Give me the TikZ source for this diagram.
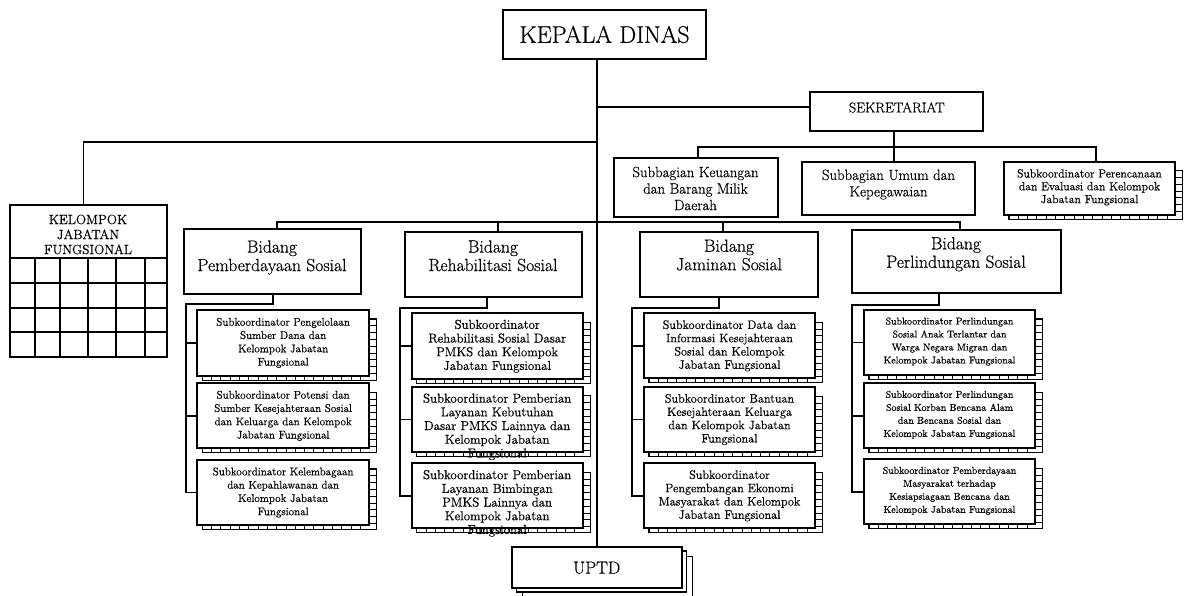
\documentclass[tikz,border=0pt]{standalone}
\usepackage{fontspec}
\setmainfont{Latin Modern Roman}[FakeBold=0.5]
\usetikzlibrary{calc}
\tikzset{
  box/.style={draw, line width=2pt, fill=white, inner sep=0pt},
  conn/.style={line width=1.8pt},
  stackline/.style={line width=1.3pt},
  rung/.style={line width=1pt},
  lbl/.style={align=center, inner sep=0pt, text=black},
  fA/.style={lbl, font=\fontsize{11.1}{13.3}\selectfont},
  fB/.style={lbl, font=\fontsize{12.9}{13.7}\selectfont},
  fC/.style={lbl, font=\fontsize{12.2}{13.3}\selectfont},
  fD/.style={lbl, font=\fontsize{9.9}{13}\selectfont},
  fE/.style={lbl, font=\fontsize{11.7}{12.8}\selectfont},
  fBid/.style={lbl, font=\fontsize{17.6}{18.5}\selectfont},
  fSub/.style={lbl, font=\fontsize{14.8}{16.5}\selectfont},
}
% #1 name, #2 x1, #3 y1, #4 x2, #5 y2, #6 font style, #7 text shift down, #8 text
\newcommand{\subk}[8]{%
  \pgfmathsetmacro{\sW}{#4-#2}%
  \pgfmathsetmacro{\sH}{#5-#3}%
  \pgfmathsetmacro{\sCX}{(#2+#4)/2}%
  \pgfmathsetmacro{\sCY}{(#3+#5)/2}%
  \pgfmathsetmacro{\rA}{#3+9+6.8}%
  \pgfmathsetmacro{\rB}{#3+9+13.6}%
  \pgfmathsetmacro{\rE}{#5+1}%
  \pgfmathsetmacro{\cA}{#2+5+9.3}%
  \pgfmathsetmacro{\cB}{#2+5+18.6}%
  \pgfmathsetmacro{\cE}{#4}%
  \draw[stackline] (#4,#3+9) -| (#4+7.5,#5+4.5) -| (#2+5,#5);
  \foreach \yy in {\rA,\rB,...,\rE} \draw[rung] (#4,\yy) -- (#4+7.5,\yy);
  \foreach \xx in {\cA,\cB,...,\cE} \draw[rung] (\xx,#5) -- (\xx,#5+4.5);
  \node[box, minimum width=\sW pt, minimum height=\sH pt] (#1) at (\sCX,\sCY) {};
  \node[#6] (#1-t) at (\sCX,\sCY+#7) {#8};
}
\begin{document}
\begin{tikzpicture}[x=1pt,y=-1pt]
\useasboundingbox (0,0) rectangle (1184,596);
\fill[white] (0,0) rectangle (1184,596);

% top
\node[box, minimum width=203pt, minimum height=49pt, font=\fontsize{24}{28}\selectfont] (kepala) at (604.5,34.5) {KEPALA DINAS};

% UPTD stack
\draw[stackline, fill=white] (522.2,556.7) rectangle (692.3,597.7);
\draw[stackline, fill=white] (516.7,551) rectangle (686.7,592);
\node[box, minimum width=170pt, minimum height=41pt, font=\fontsize{17.5}{20}\selectfont] (uptd) at (596.7,567.8) {UPTD};

% trunk
\draw[conn] (kepala.south -| uptd.north) -- (uptd.north);

% sekretariat
\node[box, minimum width=173pt, minimum height=38.4pt] (sek) at (896.5,111.5) {};
\node[lbl, font=\fontsize{14.2}{16}\selectfont] (sek-t) at (896.8,107.5) {SEKRETARIAT};
\coordinate (jS) at (596.7,106.7);
\draw[conn] (jS) -- (jS -| sek.west);

\node[box, minimum width=164.5pt, minimum height=59pt] (keu) at (695.75,187.5) {};
\node[fSub] (keu-t) at (695.5,188.5) {Subbagian Keuangan\\dan Barang Milik\\Daerah};
\node[box, minimum width=173pt, minimum height=52.7pt] (umum) at (888.5,188.65) {};
\node[fSub] (umum-t) at (888.5,184.5) {Subbagian Umum dan\\Kepegawaian};
\subk{per}{1004}{161.7}{1175}{215}{fE}{-1}{Subkoordinator Perencanaan\\dan Evaluasi dan Kelompok\\Jabatan Fungsional}

\draw[conn] ([xshift=-2.5pt]sek.south) -- ++(0,31.6);
\draw[conn] ([xshift=2.25pt]keu.north) -- ++(0,-9.7) -| ([xshift=6.2pt]per.north);

% kelompok jabatan fungsional
\node[box, minimum width=157.5pt, minimum height=53.3pt] (kjf) at (88.25,231.35) {};
\node[lbl, font=\fontsize{13.3}{15}\selectfont] (kjf-t) at (88,234.5) {KELOMPOK\\JABATAN\\FUNGSIONAL};
\draw[line width=2pt] (9.5,258) rectangle (167,356.5);
\foreach \yy in {283.3,307.5,332} \draw[line width=2pt] (9.5,\yy) -- (167,\yy);
\foreach \xx in {35,59.5,87.5,116,144.5} \draw[line width=2pt] (\xx,258) -- (\xx,356.5);
\coordinate (jK) at (596.7,142.2);
\draw[conn] (jK) -| ([xshift=-4.75pt]kjf.north);

% bidang
\node[box, minimum width=176.5pt, minimum height=65.3pt] (pem) at (272.25,261.35) {};
\node[fBid] (pem-t) at (272,257.5) {Bidang\\Pemberdayaan Sosial};
\node[box, minimum width=177.5pt, minimum height=65pt] (rehab) at (493.25,264.2) {};
\node[fBid] (rehab-t) at (493,255.8) {Bidang\\Rehabilitasi Sosial};
\node[box, minimum width=177.7pt, minimum height=65pt] (jam) at (728.85,264.2) {};
\node[fBid] (jam-t) at (729,255) {Bidang\\Jaminan Sosial};
\node[box, minimum width=209.3pt, minimum height=63.3pt] (perl) at (956.35,261.65) {};
\node[fBid] (perl-t) at (956,254.2) {Bidang\\Perlindungan Sosial};

\draw[conn] ([xshift=4.75pt]pem.north) -- ++(0,-6) -| ([xshift=3.65pt]perl.north);
\draw[conn] ([xshift=4.75pt]rehab.north) -- ++(0,-9);
\draw[conn] ([xshift=-6.25pt]jam.north) -- ++(0,-9);

% column 1
\subk{p1}{197.3}{310}{369}{375.7}{fA}{0}{Subkoordinator Pengelolaan\\Sumber Dana dan\\Kelompok Jabatan\\Fungsional}
\subk{p2}{197.3}{383.3}{369}{448.3}{fA}{0}{Subkoordinator Potensi dan\\Sumber Kesejahteraan Sosial\\dan Keluarga dan Kelompok\\Jabatan Fungsional}
\subk{p3}{197.3}{460}{369}{525}{fA}{0}{Subkoordinator Kelembagaan\\dan Kepahlawanan dan\\Kelompok Jabatan\\Fungsional}
\draw[conn] ([xshift=0.45pt]pem.south) -- ++(0,9.3) -| ([xshift=-10.6pt]p3.west) -- (p3.west);
\draw[conn] ([xshift=-10.6pt]p1.west) -- (p1.west);
\draw[conn] ([xshift=-10.6pt]p2.west) -- (p2.west);

% column 2
\subk{r1}{411.7}{313.3}{582.7}{379}{fB}{0}{Subkoordinator\\Rehabilitasi Sosial Dasar\\PMKS dan Kelompok\\Jabatan Fungsional}
\subk{r2}{411.7}{386.7}{582.7}{452.3}{fB}{7.3}{Subkoordinator Pemberian\\Layanan Kebutuhan\\Dasar PMKS Lainnya dan\\Kelompok Jabatan\\Fungsional}
\subk{r3}{411.7}{463.3}{582.7}{528.3}{fB}{7.5}{Subkoordinator Pemberian\\Layanan Bimbingan\\PMKS Lainnya dan\\Kelompok Jabatan\\Fungsional}
\draw[conn] ([xshift=-6.55pt]rehab.south) -- ++(0,10.6) -| ([xshift=-10.7pt]r3.west) -- (r3.west);
\draw[conn] ([xshift=-10.7pt]r1.west) -- (r1.west);
\draw[conn] ([xshift=-10.7pt]r2.west) -- (r2.west);

% column 3
\subk{j1}{644}{313.3}{815}{378.3}{fC}{0}{Subkoordinator Data dan\\Informasi Kesejahteraan\\Sosial dan Kelompok\\Jabatan Fungsional}
\subk{j2}{644}{387.3}{815}{451.7}{fC}{0}{Subkoordinator Bantuan\\Kesejahteraan Keluarga\\dan Kelompok Jabatan\\Fungsional}
\subk{j3}{644}{463.3}{815}{528.3}{fC}{0}{Subkoordinator\\Pengembangan Ekonomi\\Masyarakat dan Kelompok\\Jabatan Fungsional}
\draw[conn] ([xshift=-9.85pt]jam.south) -- ++(0,10) -| ([xshift=-10.7pt]j3.west) -- (j3.west);
\draw[conn] ([xshift=-10.7pt]j1.west) -- (j1.west);
\draw[conn] ([xshift=-10.7pt]j2.west) -- (j2.west);

% column 4
\subk{l1}{864}{310}{1035}{375}{fD}{-1}{Subkoordinator Perlindungan\\Sosial Anak Terlantar dan\\Warga Negara Migran dan\\Kelompok Jabatan Fungsional}
\subk{l2}{864}{383.3}{1035}{448.3}{fD}{-1}{Subkoordinator Perlindungan\\Sosial Korban Bencana Alam\\dan Bencana Sosial dan\\Kelompok Jabatan Fungsional}
\subk{l3}{864}{459.3}{1035}{524.3}{fD}{-1}{Subkoordinator Pemberdayaan\\Masyarakat terhadap\\Kesiapsiagaan Bencana dan\\Kelompok Jabatan Fungsional}
\draw[conn] ([xshift=-17pt]perl.south) -- ++(0,10.6) -| ([xshift=-10.7pt]l3.west) -- (l3.west);
\draw[conn] ([xshift=-10.7pt]l1.west) -- (l1.west);
\draw[conn] ([xshift=-10.7pt]l2.west) -- (l2.west);
\end{tikzpicture}
\end{document}
